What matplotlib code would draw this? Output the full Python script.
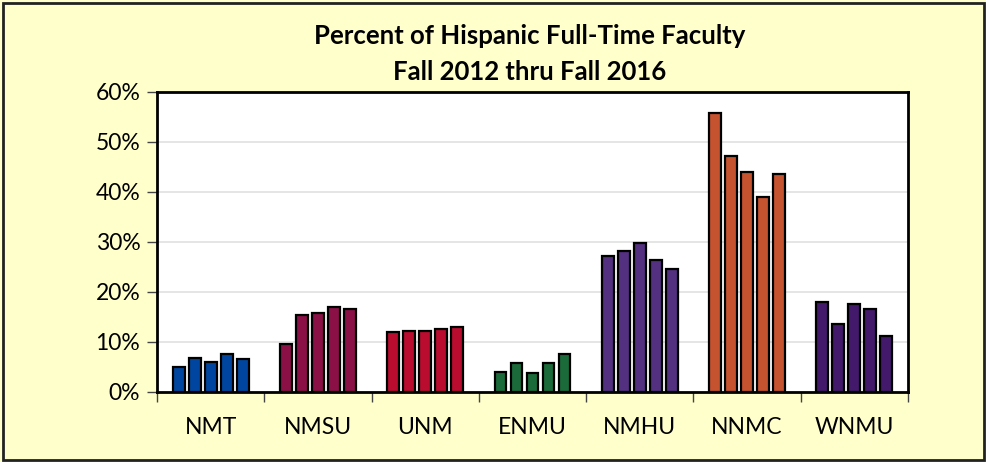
import matplotlib.pyplot as plt
import numpy as np
from matplotlib.patches import Rectangle
from matplotlib.ticker import FuncFormatter

schools = ["NMT", "NMSU", "UNM", "ENMU", "NMHU", "NNMC", "WNMU"]
years = ["Fall 2012", "Fall 2013", "Fall 2014", "Fall 2015", "Fall 2016"]
colors = ["#0046A0", "#8A1046", "#BA0C2F", "#1B6B3A", "#533080", "#C5532F", "#43196B"]

# percent hispanic faculty, one row per school, Fall 2012..2016
nmt = [5.0, 6.8, 6.1, 7.7, 6.7]
nmsu = [9.7, 15.5, 15.8, 17.0, 16.7]
unm = [12.0, 12.2, 12.2, 12.7, 13.1]
enmu = [4.1, 5.8, 3.9, 5.8, 7.6]
nmhu = [27.2, 28.2, 29.9, 26.5, 24.6]
nnmc = [55.9, 47.2, 44.1, 39.1, 43.6]
wnmu = [18.0, 13.7, 17.7, 16.6, 11.3]
values = [nmt, nmsu, unm, enmu, nmhu, nnmc, wnmu]

plt.rcParams['font.family'] = ['Lato', 'DejaVu Sans']

fig = plt.figure(figsize=(9.87, 4.62), dpi=100, facecolor="#FFFFCC")
fig.patches.append(Rectangle((0.003, 0.004), 0.994, 0.99, transform=fig.transFigure,
                             fill=False, edgecolor="#222222", linewidth=2))
ax = fig.add_axes([157 / 987, (462 - 392) / 462, (908 - 157) / 987, 300 / 462])
ax.set_facecolor("white")

pitch = 0.149
width = 0.11
for i, vals in enumerate(values):
    x = i + 0.5 + (np.arange(len(vals)) - 2) * pitch
    ax.bar(x, vals, width=width, color=colors[i], edgecolor="black", linewidth=1.6, zorder=3)

ax.set_xlim(0, len(schools))
ax.set_ylim(0, 60)
ax.set_yticks(range(0, 61, 10))
ax.yaxis.set_major_formatter(FuncFormatter(lambda v, p: f"{int(v)}%"))
ax.set_xticks(np.arange(len(schools) + 1))
ax.set_xticklabels([])
ax.set_xticks(np.arange(len(schools)) + 0.5, minor=True)
ax.set_xticklabels(schools, minor=True)
ax.tick_params(axis="x", which="major", length=7, width=1, color="#444444", direction="out")
ax.tick_params(axis="x", which="minor", length=0, pad=18, labelsize=16.5)
ax.tick_params(axis="y", length=7, width=1, color="#444444", direction="out", pad=5, labelsize=16.5)
ax.grid(axis="y", color="#E0E0E0", linewidth=1.2, zorder=0)
for s in ax.spines.values():
    s.set_linewidth(2)
    s.set_color("black")

fig.text(530 / 987, 1 - 36 / 462, "Percent of Hispanic Full-Time Faculty", ha="center", va="center",
         fontsize=18.5, fontweight="bold")
fig.text(530 / 987, 1 - 72 / 462, "Fall 2012 thru Fall 2016", ha="center", va="center",
         fontsize=18.5, fontweight="bold")

fig.savefig("out.png", dpi=100, facecolor=fig.get_facecolor())
